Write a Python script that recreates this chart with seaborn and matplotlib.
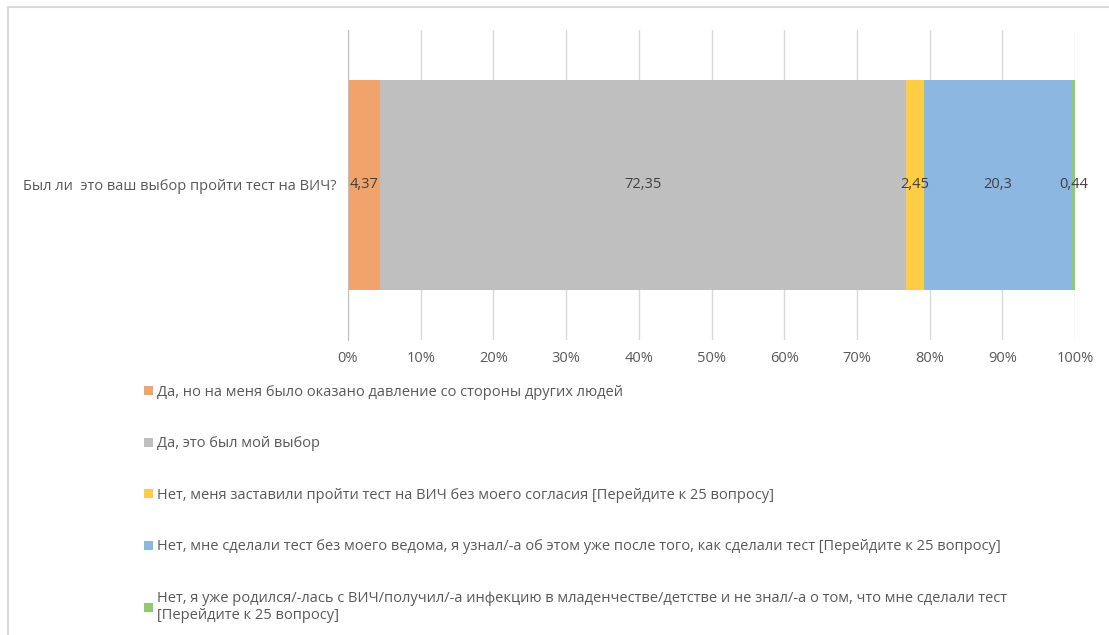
import pandas as pd
import matplotlib
matplotlib.use("Agg")
import matplotlib.pyplot as plt
import seaborn as sns
from matplotlib.patches import Patch
from matplotlib.lines import Line2D

question = "Был ли  это ваш выбор пройти тест на ВИЧ?"
answers = [
    "Да, но на меня было оказано давление со стороны других людей",
    "Да, это был мой выбор",
    "Нет, меня заставили пройти тест на ВИЧ без моего согласия [Перейдите к 25 вопросу]",
    "Нет, мне сделали тест без моего ведома, я узнал/-а об этом уже после того, как сделали тест [Перейдите к 25 вопросу]",
    "Нет, я уже родился/-лась с ВИЧ/получил/-а инфекцию в младенчестве/детстве и не знал/-а о том, что мне сделали тест\n[Перейдите к 25 вопросу]",
]
values = [4.37, 72.35, 2.45, 20.3, 0.44]
labels = ["4,37", "72,35", "2,45", "20,3", "0,44"]
colors = ["#f0a46b", "#bfbfbf", "#fdcd45", "#8cb7e0", "#92c96d"]

df = pd.DataFrame({"answer": answers, "value": values, "label": labels, "color": colors})
df["share"] = df["value"] / df["value"].sum() * 100
df["end"] = df["share"].cumsum()
df["start"] = df["end"] - df["share"]
df["q"] = question

sns.set_style("white")
plt.rcParams["font.family"] = ["Open Sans", "DejaVu Sans"]
text_color = "#595959"
fs = 10.5

fig = plt.figure(figsize=(11.09, 6.35), dpi=100)
ax = fig.add_axes([348 / 1109, 1 - 340 / 635, 727 / 1109, 310 / 635])

# stacked bar: draw cumulative totals from the largest down
for _, row in df[::-1].iterrows():
    sns.barplot(x=[row["end"]], y=[row["q"]], color=row["color"], width=0.677,
                saturation=1, linewidth=0, ax=ax, orient="h")

for _, row in df.iterrows():
    ax.text((row["start"] + row["end"]) / 2, 0, row["label"], ha="center", va="center",
            fontsize=fs, color="#404040")

ax.set_xlim(0, 100)
ax.set_ylim(0.5, -0.5)
ax.set_xticks(range(0, 101, 10))
ax.set_xticklabels([f"{t}%" for t in range(0, 101, 10)])
ax.xaxis.grid(True, color="#d9d9d9", linewidth=1)
ax.set_axisbelow(True)
for s in ["top", "right", "bottom"]:
    ax.spines[s].set_visible(False)
ax.spines["left"].set_color("#bfbfbf")
ax.tick_params(axis="both", length=0, labelsize=fs, colors=text_color, pad=8)
ax.set_xlabel("")
ax.set_ylabel("")

handles = [Patch(facecolor=c, edgecolor="none") for c in colors]
fig.legend(handles, answers, loc="upper left", bbox_to_anchor=(144 / 1109, 1 - 385 / 635),
           frameon=False, fontsize=fs, labelcolor=text_color, handlelength=0.6,
           handleheight=0.6, handletextpad=0.3, labelspacing=2.5, borderaxespad=0,
           borderpad=0)

# chart area border
fig.add_artist(Line2D([7.5 / 1109, 1], [1 - 6.5 / 635] * 2, color="#d9d9d9", lw=1.5,
                      transform=fig.transFigure))
fig.add_artist(Line2D([7.5 / 1109] * 2, [0, 1 - 6.5 / 635], color="#d9d9d9", lw=1.5,
                      transform=fig.transFigure))

fig.savefig("out.png", dpi=100)
